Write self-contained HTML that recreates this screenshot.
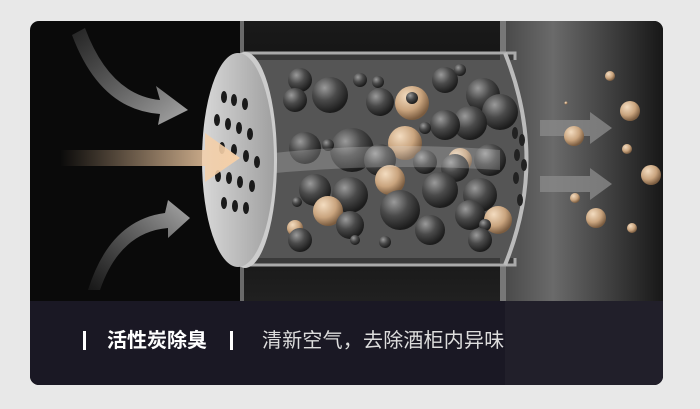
<!DOCTYPE html>
<html><head><meta charset="utf-8"><style>
html,body{margin:0;padding:0;background:#e8e8e8;width:700px;height:409px;overflow:hidden}
svg{position:absolute;left:0;top:0}
.t{position:absolute;top:326px;font-family:"Liberation Sans","Noto Sans CJK SC",sans-serif;font-size:20px;line-height:30px;white-space:nowrap}
</style></head><body>
<svg width="700" height="409" viewBox="0 0 700 409">
<defs>
<clipPath id="card"><rect x="30" y="21" width="633" height="364" rx="9"/></clipPath>
<linearGradient id="rs" x1="0" x2="1"><stop offset="0" stop-color="#4a4a4a"/><stop offset="0.3" stop-color="#6a6a6a"/><stop offset="1" stop-color="#161616"/></linearGradient>
<linearGradient id="mid" x1="0" y1="0" x2="0" y2="1"><stop offset="0" stop-color="#1a1a1a"/><stop offset="0.5" stop-color="#0a0a0a"/><stop offset="1" stop-color="#202020"/></linearGradient>
<radialGradient id="g" cx="0.35" cy="0.3" r="0.7"><stop offset="0" stop-color="#9a9a9a"/><stop offset="0.5" stop-color="#4a4a4a"/><stop offset="1" stop-color="#1c1c1c"/></radialGradient>
<radialGradient id="o" cx="0.35" cy="0.3" r="0.7"><stop offset="0" stop-color="#f3dcc0"/><stop offset="0.6" stop-color="#c9a47e"/><stop offset="1" stop-color="#7a5c40"/></radialGradient>
<linearGradient id="tan" x1="0" x2="1"><stop offset="0" stop-color="#f2caa0" stop-opacity="0"/><stop offset="1" stop-color="#f6d0a8"/></linearGradient>
<linearGradient id="ga1" x1="0" y1="0" x2="1" y2="1"><stop offset="0" stop-color="#888" stop-opacity="0.2"/><stop offset="1" stop-color="#aaa"/></linearGradient>
<linearGradient id="ga2" x1="0" y1="1" x2="1" y2="0"><stop offset="0" stop-color="#888" stop-opacity="0.1"/><stop offset="1" stop-color="#aaa"/></linearGradient>
<linearGradient id="disc" x1="0" x2="1"><stop offset="0" stop-color="#d8d8d8"/><stop offset="1" stop-color="#a0a0a0"/></linearGradient>
</defs>
<g clip-path="url(#card)">
<rect x="30" y="21" width="633" height="364" fill="#0a0a0a"/>
<rect x="243" y="21" width="262" height="280" fill="url(#mid)"/>
<rect x="505" y="21" width="160" height="280" fill="url(#rs)"/>
<rect x="240" y="21" width="4" height="280" fill="#6a6a6a"/>
<rect x="500" y="21" width="6" height="280" fill="#777"/>
<rect x="245" y="53" width="270" height="212" fill="#3a3a3a" stroke="#aaa" stroke-width="3"/>
<rect x="255" y="60" width="265" height="198" fill="#555"/>
<path d="M505 55 Q545 160 505 263 L500 263 L500 55Z" fill="#555"/>
<g>
<circle cx="300" cy="80" r="12" fill="url(#g)"/><circle cx="330" cy="95" r="18" fill="url(#g)"/><circle cx="295" cy="100" r="12" fill="url(#g)"/>
<circle cx="360" cy="80" r="7" fill="url(#g)"/><circle cx="378" cy="82" r="6" fill="url(#g)"/><circle cx="380" cy="102" r="14" fill="url(#g)"/>
<circle cx="412" cy="103" r="17" fill="url(#o)"/><circle cx="412" cy="98" r="6" fill="url(#g)"/><circle cx="445" cy="80" r="13" fill="url(#g)"/>
<circle cx="460" cy="70" r="6" fill="url(#g)"/><circle cx="483" cy="95" r="17" fill="url(#g)"/><circle cx="500" cy="112" r="18" fill="url(#g)"/>
<circle cx="470" cy="123" r="17" fill="url(#g)"/><circle cx="445" cy="125" r="15" fill="url(#g)"/><circle cx="425" cy="128" r="6" fill="url(#g)"/>
<circle cx="405" cy="143" r="17" fill="url(#o)"/><circle cx="352" cy="150" r="22" fill="url(#g)"/><circle cx="305" cy="148" r="16" fill="url(#g)"/>
<circle cx="328" cy="145" r="6" fill="url(#g)"/><circle cx="380" cy="160" r="16" fill="url(#g)"/><circle cx="460" cy="160" r="12" fill="url(#o)"/>
<circle cx="490" cy="160" r="16" fill="url(#g)"/><circle cx="425" cy="162" r="12" fill="url(#g)"/><circle cx="455" cy="168" r="14" fill="url(#g)"/>
<circle cx="390" cy="180" r="15" fill="url(#o)"/><circle cx="315" cy="190" r="16" fill="url(#g)"/><circle cx="350" cy="195" r="18" fill="url(#g)"/>
<circle cx="440" cy="190" r="18" fill="url(#g)"/><circle cx="480" cy="195" r="17" fill="url(#g)"/><circle cx="400" cy="210" r="20" fill="url(#g)"/>
<circle cx="328" cy="211" r="15" fill="url(#o)"/><circle cx="295" cy="228" r="8" fill="url(#o)"/><circle cx="300" cy="240" r="12" fill="url(#g)"/>
<circle cx="350" cy="225" r="14" fill="url(#g)"/><circle cx="430" cy="230" r="15" fill="url(#g)"/><circle cx="470" cy="215" r="15" fill="url(#g)"/>
<circle cx="498" cy="220" r="14" fill="url(#o)"/><circle cx="485" cy="225" r="6" fill="url(#g)"/><circle cx="480" cy="240" r="12" fill="url(#g)"/>
<circle cx="385" cy="242" r="6" fill="url(#g)"/><circle cx="355" cy="240" r="5" fill="url(#g)"/><circle cx="297" cy="202" r="5" fill="url(#g)"/>
</g>
<path d="M255 155 Q380 140 500 150 L500 170 Q380 162 255 175Z" fill="#ddd" opacity="0.25"/>
<path d="M505 53 Q548 160 505 265" fill="none" stroke="#bbb" stroke-width="4"/>
<g fill="#222"><ellipse cx="515" cy="133" rx="3" ry="6"/><ellipse cx="517" cy="155" rx="3" ry="6"/><ellipse cx="516" cy="178" rx="3" ry="6"/><ellipse cx="524" cy="165" rx="3" ry="6"/><ellipse cx="522" cy="140" rx="3" ry="6"/><ellipse cx="520" cy="200" rx="3" ry="6"/></g>
<ellipse cx="245" cy="160" rx="32" ry="108" fill="#ccc"/>
<ellipse cx="238" cy="160" rx="36" ry="107" fill="url(#disc)"/>
<g fill="#1a1a1a">
<ellipse cx="224" cy="97" rx="3" ry="6"/><ellipse cx="234" cy="100" rx="3" ry="6"/><ellipse cx="245" cy="104" rx="3" ry="6"/>
<ellipse cx="217" cy="120" rx="3" ry="6"/><ellipse cx="228" cy="124" rx="3" ry="6"/><ellipse cx="239" cy="128" rx="3" ry="6"/><ellipse cx="250" cy="134" rx="3" ry="6"/>
<ellipse cx="222" cy="148" rx="3" ry="6"/><ellipse cx="234" cy="150" rx="3" ry="6"/><ellipse cx="246" cy="156" rx="3" ry="6"/><ellipse cx="257" cy="162" rx="3" ry="6"/>
<ellipse cx="218" cy="176" rx="3" ry="6"/><ellipse cx="229" cy="178" rx="3" ry="6"/><ellipse cx="240" cy="182" rx="3" ry="6"/><ellipse cx="252" cy="186" rx="3" ry="6"/>
<ellipse cx="224" cy="203" rx="3" ry="6"/><ellipse cx="235" cy="206" rx="3" ry="6"/><ellipse cx="246" cy="208" rx="3" ry="6"/>
</g>
<path d="M60 150 L205 150 L205 133 L240 158 L205 182 L205 166 L60 166Z" fill="url(#tan)"/>
<path d="M85 28 Q110 95 160 100 L156 86 L188 110 L158 125 L160 114 Q100 110 72 35Z" fill="url(#ga1)"/>
<path d="M88 290 Q110 220 165 213 L168 200 L190 218 L168 238 L168 228 Q120 232 100 290Z" fill="url(#ga2)"/>
<path d="M540 120 L590 120 L590 112 L612 128 L590 144 L590 136 L540 136Z" fill="#888" opacity="0.8"/>
<path d="M540 176 L590 176 L590 168 L612 184 L590 200 L590 192 L540 192Z" fill="#888" opacity="0.8"/>
<circle cx="574" cy="136" r="10" fill="url(#o)"/><circle cx="610" cy="76" r="5" fill="url(#o)"/><circle cx="630" cy="111" r="10" fill="url(#o)"/>
<circle cx="627" cy="149" r="5" fill="url(#o)"/><circle cx="651" cy="175" r="10" fill="url(#o)"/><circle cx="575" cy="198" r="5" fill="url(#o)"/>
<circle cx="596" cy="218" r="10" fill="url(#o)"/><circle cx="632" cy="228" r="5" fill="url(#o)"/><circle cx="566" cy="103" r="1.5" fill="url(#o)"/>
<rect x="30" y="301" width="633" height="84" fill="#1a1824"/>
<rect x="505" y="301" width="160" height="84" fill="#211f2a"/>
</g>
<rect x="83" y="331" width="3" height="19" fill="#fff"/>
<rect x="230" y="331" width="3" height="19" fill="#fff"/>
</svg>
<div class="t" style="left:107px;color:#fff;font-weight:bold">活性炭除臭</div>
<div class="t" style="left:262px;color:#ddd;letter-spacing:0.2px">清新空气，去除酒柜内异味</div>
</body></html>
